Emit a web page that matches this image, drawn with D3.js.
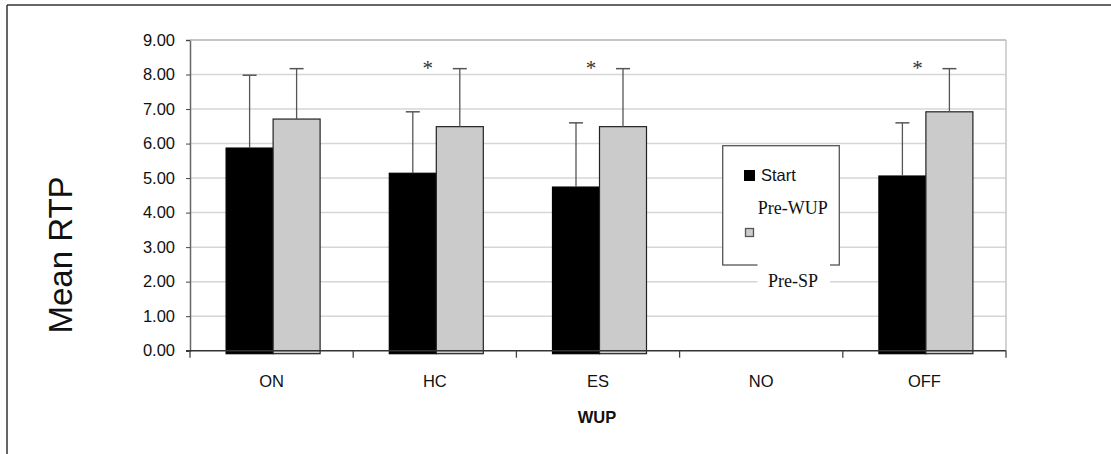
<!DOCTYPE html>
<html><head><meta charset="utf-8">
<script src="https://cdn.jsdelivr.net/npm/d3@7"></script>
<style>
html,body{margin:0;padding:0;background:#fff;}
svg{display:block;}
</style></head>
<body>
<script>
const categories = ["ON","HC","ES","NO","OFF"];
const seriesNames = ["Start","Pre-WUP"];
const startMean = [5.87, 5.14, 4.74, null, 5.06];
const startSD   = [2.11, 1.78, 1.86, null, 1.54];
const preWupMean = [6.71, 6.49, 6.49, null, 6.92];
const preWupSD   = [1.46, 1.68, 1.68, null, 1.25];
const sigMarks = ["", "*", "*", "", "*"];
const yTicks = [0,1,2,3,4,5,6,7,8,9];
const yLabel = "Mean RTP";
const xLabel = "WUP";
const extraLegendLabel = "Pre-SP";

(function(){
const W = 1111, H = 454;
const SANS = "'Liberation Sans', Arial, sans-serif";
const SERIF = "'Liberation Serif', 'Times New Roman', serif";
const svg = d3.select("body").append("svg").attr("width", W).attr("height", H)
  .style("font-family", SANS);

const pL = 190, pR = 1006, pT = 40, pB = 350.7;
const y = d3.scaleLinear().domain([0, 9]).range([pB, pT]);
const x = d3.scaleBand().domain(categories).range([pL, pR]).paddingInner(0.424).paddingOuter(0.212);
const xs = d3.scaleBand().domain(seriesNames).range([0, x.bandwidth()]).padding(0);
const colors = {"Start":"#000000","Pre-WUP":"#cbcbcb"};
const strokes = {"Start":"#000000","Pre-WUP":"#222222"};

// outer frame
svg.append("line").attr("x1",7).attr("x2",W).attr("y1",5).attr("y2",5).attr("stroke","#333").attr("stroke-width",1.5);
svg.append("line").attr("x1",7).attr("x2",7).attr("y1",5).attr("y2",H).attr("stroke","#333").attr("stroke-width",1.5);

// gridlines
svg.append("g").selectAll("line").data(yTicks.filter(t=>t>0)).join("line")
  .attr("x1",pL).attr("x2",pR).attr("y1",d=>y(d)).attr("y2",d=>y(d))
  .attr("stroke","#d6d6d6").attr("stroke-width",1.5);
// plot right border
svg.append("line").attr("x1",pR).attr("x2",pR).attr("y1",pT).attr("y2",pB)
  .attr("stroke","#c4c4c4").attr("stroke-width",1.5);

// y axis
const yAxis = d3.axisLeft(y).tickValues(yTicks).tickFormat(d3.format(".2f")).tickSize(4).tickPadding(11);
const gy = svg.append("g").attr("transform",`translate(${pL},0)`).call(yAxis);
gy.attr("font-family", null).attr("font-size", null);
gy.select(".domain").attr("stroke","#666").attr("stroke-width",1.5);
gy.selectAll(".tick line").attr("stroke","#444");
gy.selectAll(".tick text").style("font-size","16.5px").style("font-family",SANS).attr("fill","#111");

// bars
const rows = categories.map((c,i)=>({c, vals:[
  {s:"Start", v:startMean[i], e:startSD[i]},
  {s:"Pre-WUP", v:preWupMean[i], e:preWupSD[i]}
]}));
const shift = 1.5;
const groups = svg.append("g").selectAll("g").data(rows).join("g")
  .attr("transform", d=>`translate(${x(d.c)+shift},0)`);
groups.selectAll("rect").data(d=>d.vals.filter(v=>v.v!=null)).join("rect")
  .attr("x", d=>xs(d.s)).attr("width", xs.bandwidth())
  .attr("y", d=>y(d.v)).attr("height", d=>y(0)+3 - y(d.v))
  .attr("fill", d=>colors[d.s]).attr("stroke", d=>strokes[d.s]).attr("stroke-width",1.2);
// error bars
const eb = groups.selectAll("g.eb").data(d=>d.vals.filter(v=>v.v!=null)).join("g").attr("class","eb");
eb.append("line")
  .attr("x1", d=>xs(d.s)+xs.bandwidth()/2).attr("x2", d=>xs(d.s)+xs.bandwidth()/2)
  .attr("y1", d=>y(d.v)).attr("y2", d=>y(d.v+d.e))
  .attr("stroke","#555").attr("stroke-width",1.3);
eb.append("line")
  .attr("x1", d=>xs(d.s)+xs.bandwidth()/2-7).attr("x2", d=>xs(d.s)+xs.bandwidth()/2+7)
  .attr("y1", d=>y(d.v+d.e)).attr("y2", d=>y(d.v+d.e))
  .attr("stroke","#555").attr("stroke-width",1.5);

// significance marks
svg.append("g").selectAll("text").data(categories.map((c,i)=>({c, m:sigMarks[i]})).filter(d=>d.m)).join("text")
  .attr("x", d=>x(d.c)+x.bandwidth()/2-7).attr("y", 75)
  .attr("text-anchor","middle").style("font-size","21px").attr("fill","#333")
  .style("font-family", SERIF)
  .text(d=>d.m);

// plot top border
svg.append("line").attr("x1",pL).attr("x2",pR).attr("y1",pT).attr("y2",pT)
  .attr("stroke","#bdbdbd").attr("stroke-width",1.5);

// x axis
const bounds = d3.range(categories.length+1).map(i=>pL + i*x.step());
svg.append("line").attr("x1",pL-4).attr("x2",pR).attr("y1",y(0)).attr("y2",y(0)).attr("stroke","#333").attr("stroke-width",1.5);
svg.append("g").selectAll("line").data(bounds).join("line")
  .attr("x1",d=>d).attr("x2",d=>d).attr("y1",y(0)).attr("y2",y(0)+7).attr("stroke","#444").attr("stroke-width",1.3);
svg.append("g").selectAll("text").data(categories).join("text")
  .attr("x", d=>x(d)+x.bandwidth()/2).attr("y", 386.5)
  .attr("text-anchor","middle").style("font-size","16.5px").attr("fill","#111").text(d=>d);

// axis titles
svg.append("text").attr("x",597).attr("y",423.3).attr("text-anchor","middle")
  .style("font-size","16.5px").attr("font-weight","bold").attr("fill","#111").text(xLabel);
svg.append("text").attr("transform","translate(72,255) rotate(-90)").attr("text-anchor","middle")
  .style("font-size","33px").attr("fill","#111").text(yLabel);

// legend
const lg = svg.append("g");
lg.append("rect").attr("x",722.7).attr("y",145.7).attr("width",116.6).attr("height",119.3)
  .attr("fill","#fff").attr("stroke","#555").attr("stroke-width",1.3);
lg.append("rect").attr("x",744).attr("y",170).attr("width",11).attr("height",11).attr("fill",colors["Start"]);
lg.append("text").attr("x",761).attr("y",181).style("font-size","16.5px").attr("fill","#111").text(seriesNames[0]);
lg.append("text").attr("x",757.7).attr("y",214.3).style("font-size","18px").attr("fill","#111")
  .style("font-family", SERIF).text(seriesNames[1]);
lg.append("rect").attr("x",745.5).attr("y",228.5).attr("width",8).attr("height",8)
  .attr("fill",colors["Pre-WUP"]).attr("stroke","#555").attr("stroke-width",1.3);
lg.append("rect").attr("x",757.5).attr("y",262).attr("width",72.5).attr("height",32).attr("fill","#fff");
lg.append("text").attr("x",793).attr("y",286.7).attr("text-anchor","middle").style("font-size","18px").attr("fill","#111")
  .style("font-family", SERIF).text(extraLegendLabel);
})();
</script>
</body></html>
